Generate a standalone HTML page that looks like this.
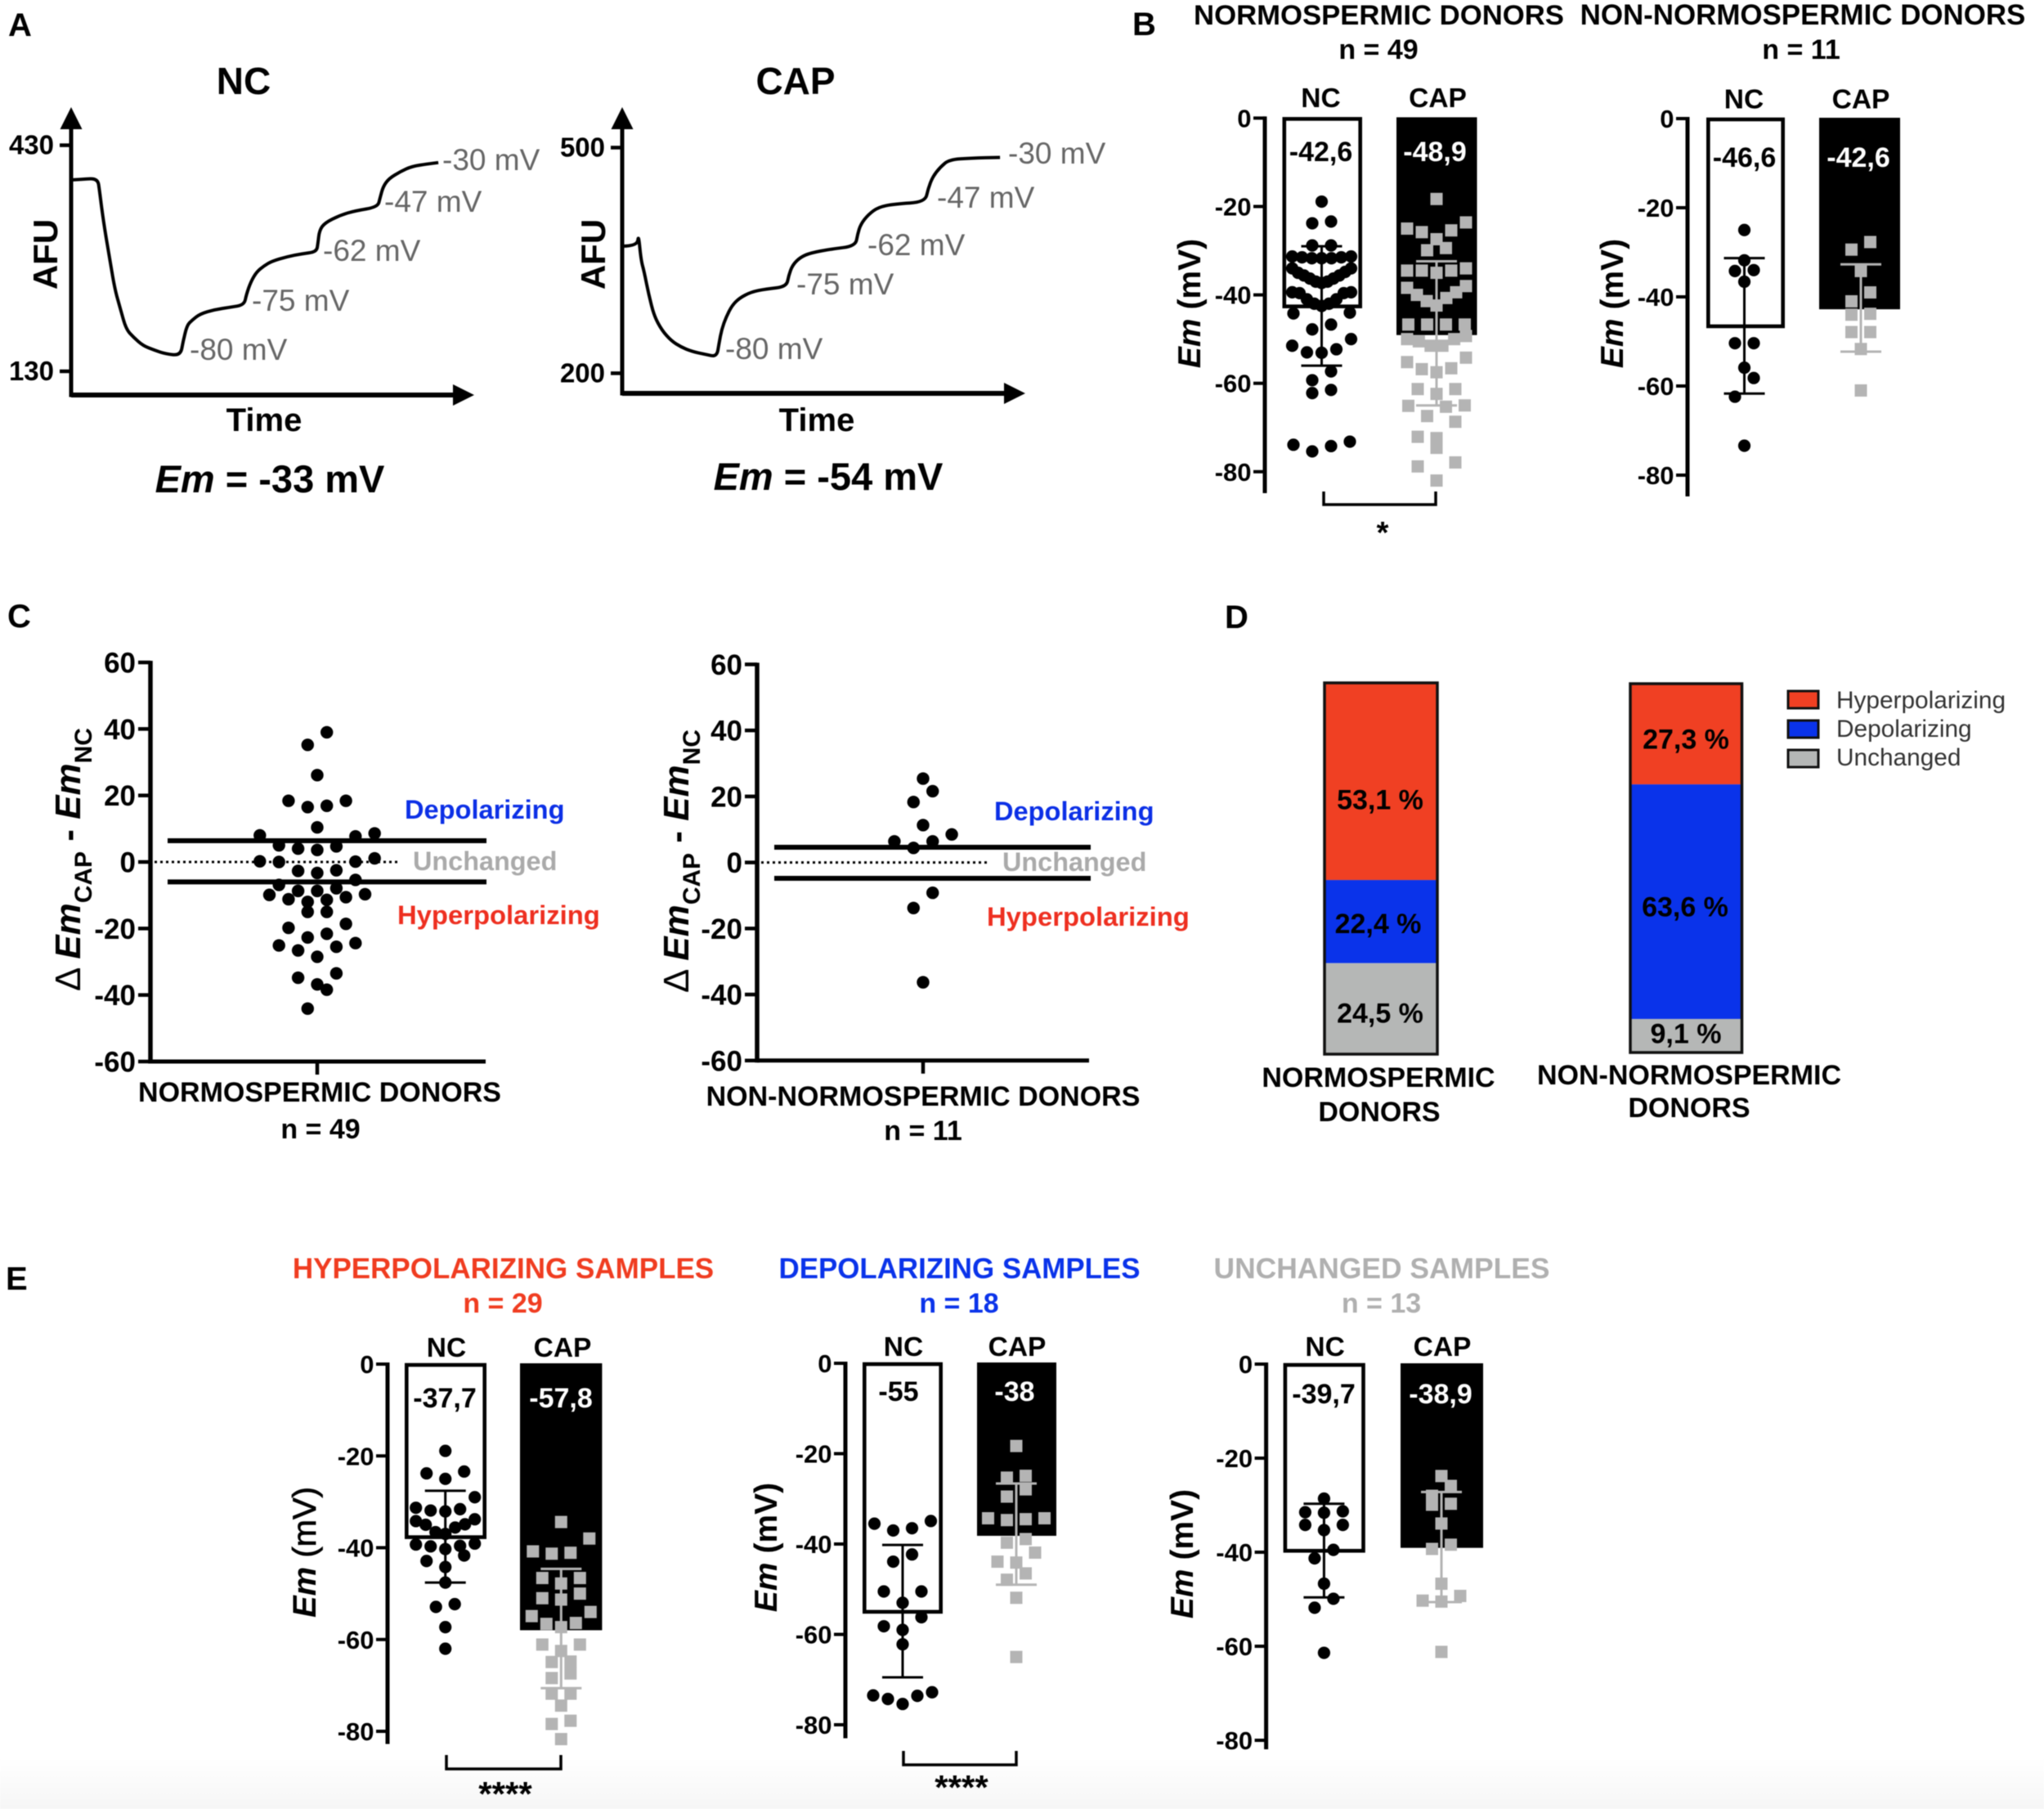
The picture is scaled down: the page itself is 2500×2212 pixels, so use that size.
<!DOCTYPE html>
<html lang="en">
<head>
<meta charset="utf-8">
<title>Membrane potential figure</title>
<style>
  html, body { margin: 0; padding: 0; background: #fff; }
  svg { display: block; font-family: "Liberation Sans", Arial, sans-serif; filter: blur(0.6px); }
  .b { font-weight: 700; fill: #000; }
  .r { font-weight: 400; }
  .g { fill: #666; font-size: 37px; }
  .m { text-anchor: middle; }
  .i { font-style: italic; }
</style>
</head>
<body>
<svg id="figure" xmlns="http://www.w3.org/2000/svg" width="2500" height="2212" viewBox="0 0 2500 2212">
  <defs>
    <linearGradient id="bottomFade" x1="0" y1="0" x2="0" y2="1">
      <stop offset="0" stop-color="#ffffff"/>
      <stop offset="1" stop-color="#f6f6f6"/>
    </linearGradient>
  </defs>
  <rect x="0" y="0" width="2500" height="2212" fill="#fff"/>
  <rect x="0" y="2150" width="2500" height="62" fill="url(#bottomFade)"/>

  <!-- Panel letters -->
  <text class="b" x="10" y="44" font-size="40">A</text>
  <text class="b" x="1385" y="43" font-size="40">B</text>
  <text class="b" x="9" y="767" font-size="40">C</text>
  <text class="b" x="1498" y="768" font-size="40">D</text>
  <text class="b" x="7" y="1577" font-size="40">E</text>

  <!-- Panel A text -->
  <g id="panelA">
    <text class="b m" x="298" y="115" font-size="46">NC</text>
    <text class="b m" x="973" y="115" font-size="46">CAP</text>
    <text class="b m" transform="translate(70,311) rotate(-90)" font-size="42">AFU</text>
    <text class="b m" transform="translate(740,311) rotate(-90)" font-size="42">AFU</text>
    <text class="b m" x="323" y="527" font-size="40">Time</text>
    <text class="b m" x="999" y="527" font-size="40">Time</text>
    <text class="b m" x="330" y="602" font-size="47"><tspan class="i">Em</tspan> = -33 mV</text>
    <text class="b m" x="1013" y="599" font-size="47"><tspan class="i">Em</tspan> = -54 mV</text>
    <text class="g" x="541" y="208">-30 mV</text>
    <text class="g" x="470" y="259">-47 mV</text>
    <text class="g" x="395" y="319">-62 mV</text>
    <text class="g" x="308" y="380">-75 mV</text>
    <text class="g" x="232" y="440">-80 mV</text>
    <text class="g" x="1233" y="200">-30 mV</text>
    <text class="g" x="1146" y="254">-47 mV</text>
    <text class="g" x="1061" y="312">-62 mV</text>
    <text class="g" x="974" y="360">-75 mV</text>
    <text class="g" x="887" y="439">-80 mV</text>
  </g>

  <!-- Panel B text -->
  <g id="panelB">
    <text class="b m" x="1686.5" y="30" font-size="34.7">NORMOSPERMIC DONORS</text>
    <text class="b m" x="2205" y="30" font-size="34.9">NON-NORMOSPERMIC DONORS</text>
    <text class="b m" x="1686" y="72" font-size="34">n = 49</text>
    <text class="b m" x="2203" y="72" font-size="34">n = 11</text>
    <text class="b m" transform="translate(1468,371) rotate(-90)" font-size="39"><tspan class="i">Em</tspan> (mV)</text>
    <text class="b m" transform="translate(1985,371) rotate(-90)" font-size="39"><tspan class="i">Em</tspan> (mV)</text>
    <path d="M1619 601 V617 H1756 V601" fill="none" stroke="#000" stroke-width="3.5"/>
    <text class="b m" x="1691" y="664" font-size="38">*</text>
  </g>

  <!-- Panel C text -->
  <g id="panelC">
    <text class="b m" transform="translate(98,1051) rotate(-90)" font-size="44"><tspan font-weight="400">Δ </tspan><tspan class="i">Em</tspan><tspan font-size="30" dy="14">CAP</tspan><tspan dy="-14"> - </tspan><tspan class="i">Em</tspan><tspan font-size="30" dy="14">NC</tspan></text>
    <text class="b m" transform="translate(842,1053) rotate(-90)" font-size="44"><tspan font-weight="400">Δ </tspan><tspan class="i">Em</tspan><tspan font-size="30" dy="14">CAP</tspan><tspan dy="-14"> - </tspan><tspan class="i">Em</tspan><tspan font-size="30" dy="14">NC</tspan></text>
    <text class="b m" x="391" y="1347" font-size="34">NORMOSPERMIC DONORS</text>
    <text class="b m" x="392" y="1392" font-size="34">n = 49</text>
    <text class="b m" x="1129" y="1352" font-size="34">NON-NORMOSPERMIC DONORS</text>
    <text class="b m" x="1129" y="1394" font-size="34">n = 11</text>
    <text font-weight="700" font-size="32.6" fill="#0b2fe6" x="495" y="1001">Depolarizing</text>
    <text font-weight="700" font-size="32.4" fill="#aaaaaa" x="505" y="1064">Unchanged</text>
    <text font-weight="700" font-size="32.8" fill="#ee2f20" x="486" y="1130">Hyperpolarizing</text>
    <text font-weight="700" font-size="32.6" fill="#0b2fe6" x="1216" y="1003">Depolarizing</text>
    <text font-weight="700" font-size="32.4" fill="#aaaaaa" x="1226" y="1065">Unchanged</text>
    <text font-weight="700" font-size="32.8" fill="#ee2f20" x="1207" y="1132">Hyperpolarizing</text>
  </g>

  <!-- Panel D text -->
  <g id="panelD">
    <text class="b m" x="1686" y="1329" font-size="34">NORMOSPERMIC</text>
    <text class="b m" x="1687" y="1371" font-size="34">DONORS</text>
    <text class="b m" x="2066" y="1326" font-size="34">NON-NORMOSPERMIC</text>
    <text class="b m" x="2066" y="1366" font-size="34">DONORS</text>
    <rect x="2187" y="845" width="37" height="21" fill="#f04023" stroke="#111" stroke-width="3"/>
    <rect x="2187" y="881" width="37" height="21" fill="#0a33ea" stroke="#111" stroke-width="3"/>
    <rect x="2187" y="917" width="37" height="21" fill="#b5b7b6" stroke="#111" stroke-width="3"/>
    <text x="2246" y="866" font-size="29.8" fill="#333">Hyperpolarizing</text>
    <text x="2246" y="901" font-size="29.8" fill="#333">Depolarizing</text>
    <text x="2246" y="936" font-size="29.8" fill="#333">Unchanged</text>
  </g>

  <!-- Panel E text -->
  <g id="panelE">
    <text font-weight="700" text-anchor="middle" fill="#f03c20" x="615.5" y="1563" font-size="35">HYPERPOLARIZING SAMPLES</text>
    <text font-weight="700" text-anchor="middle" fill="#f03c20" x="615" y="1605" font-size="34">n = 29</text>
    <text font-weight="700" text-anchor="middle" fill="#0a33ea" x="1173.5" y="1563" font-size="34.9">DEPOLARIZING SAMPLES</text>
    <text font-weight="700" text-anchor="middle" fill="#0a33ea" x="1173" y="1605" font-size="34">n = 18</text>
    <text font-weight="700" text-anchor="middle" fill="#b0b0b0" x="1690" y="1563" font-size="35.4">UNCHANGED SAMPLES</text>
    <text font-weight="700" text-anchor="middle" fill="#b0b0b0" x="1689.5" y="1605" font-size="34">n = 13</text>
    <text text-anchor="middle" transform="translate(386,1898) rotate(-90)" font-size="40"><tspan class="b i">Em</tspan><tspan stroke="#000" stroke-width="0.8"> (mV)</tspan></text>
    <text class="b m" transform="translate(950,1892) rotate(-90)" font-size="39"><tspan class="i">Em</tspan> (mV)</text>
    <text class="b m" transform="translate(1459,1900) rotate(-90)" font-size="39"><tspan class="i">Em</tspan> (mV)</text>
    <path d="M546 2146 V2163 H686 V2146" fill="none" stroke="#000" stroke-width="3.5"/>
    <text class="b m" x="618" y="2208" font-size="42">****</text>
    <path d="M1105 2141 V2158 H1243 V2141" fill="none" stroke="#000" stroke-width="3.5"/>
    <text class="b m" x="1176" y="2200" font-size="42">****</text>
  </g>

  <g id="marks"></g>
</svg>

<script>
/* ---------- Panel A: fluorescence traces ---------- */
const ncTraceTime = [0,3,7,7.5,8.5,10,11.5,13,14.5,16.5,19,22,25,28.9,29.6,30.6,32,34,38,42,45.7,46.3,47.5,49,51,53,57,61,64.8,65.2,65.6,67,71,75,81,81.6,82.4,84,87,90,94,97];
const ncTraceAfu = [384,385,386,370,330,285,240,213,186,175,164,158,153,151,170,191,198,206,212,215,218,232,249,262,270,276,282,286,288.5,300,317,327,337,343,348,360,375,386,395,402,405,407];
const capTraceTime = [0,4,4.3,5,5.8,7,8.4,10.5,13,15.5,18.4,22,25,25.6,26.3,27.5,29,31,34,38,43.4,44,45,47,49.7,55,61.6,62.2,63,65,67.7,72,80,80.8,82,84,86.4,92,99.8];
const capTraceAfu = [369,369,385,350,335,305,276.5,257,243,235,229,225,222,240,258.6,275,290,300,308,312,315,330,344,354,360,365,369,385,398,411,421,425,427.6,445,461,474,484,486,487];
const ncAfuTicks = [430,130];
const capAfuTicks = [500,200];

/* ---------- Shared bar-panel arrays ---------- */
const emTicks = [0,-20,-40,-60,-80];
const barCategories = ['NC','CAP'];

/* ---------- Panel B ---------- */
const b1Means = [-42.6,-48.9];
const b1ErrTop = [-29,-32.4];
const b1ErrBottom = [-56,-65];
const b1NcValues = [-18.9,-23.4,-23.8,-28.8,-28.8,-31.3,-31.5,-31.7,-31.7,-31.7,-31.5,-31.3,-34,-34,-34.8,-35,-35.6,-35.6,-36.3,-36.3,-37,-37,-37.3,-39.4,-39.4,-39.6,-39.6,-41,-41,-42,-42,-42.5,-44,-44.2,-46.7,-47.8,-50,-51.5,-52.3,-53,-53.1,-57.3,-59.3,-61.5,-62.2,-73.2,-73.9,-74.2,-75.4];
const b1NcBins = [-16,-21,-26,-30,-33,-38,-43,-49,-55,-60.5,-65,-70,-80];
const b1CapValues = [-18.3,-23.6,-25,-25.4,-25.8,-27.4,-29.4,-29.9,-34,-34.5,-34.5,-34.5,-35,-38,-38.4,-39.4,-40,-40.7,-41.4,-42.4,-46.7,-46.7,-46.7,-46.7,-49.3,-50,-50,-50.5,-51.5,-51.5,-54.2,-55.2,-56.6,-56.8,-57.5,-61.3,-61.3,-62.4,-65,-65.1,-65.3,-67.4,-68.7,-72.1,-72.4,-74.6,-77.9,-78.8,-82];
const b1CapBins = [-15,-22.5,-27.5,-32.5,-37.5,-42.5,-47.5,-52.5,-57.6,-62.5,-67.5,-72.5,-77.5,-82.5];

const b2Means = [-46.6,-42.6];
const b2ErrTop = [-31.3,-32.7];
const b2ErrBottom = [-61.7,-52.3];
const b2NcValues = [-25,-31.8,-34,-34.2,-36.6,-50.4,-50.4,-55.9,-58.2,-62.4,-73.4];
const b2NcBins = [-20,-30,-33,-35,-40,-45,-53,-57,-63,-80];
const b2CapValues = [-27.7,-29.4,-34.2,-39,-41,-43.8,-44,-47.9,-47.9,-51.7,-61];
const b2CapBins = [-25,-31,-36,-42,-46,-50,-55,-65];

/* ---------- Panel C ---------- */
const deltaTicks = [60,40,20,0,-20,-40,-60];
const c1Thresholds = [6.4,-6];
const c1Values = [39,35.2,26.1,18.4,18.4,16.9,16.5,10.4,8,8.6,7.7,5,4.7,4,3.6,1.1,0.2,0,0.1,-2.7,-2.5,-3.3,-5.4,-6.9,-7.9,-8.7,-8.7,-9.7,-9.9,-10.6,-11.2,-11.4,-12,-15,-15,-18.6,-19.8,-21.6,-22.7,-24.4,-25.1,-25.5,-26.6,-28.5,-33.5,-34.8,-36.8,-38.4,-44.1];
const c1Bins = [45,30,22,13,9,2,-4.5,-9,-13,-17,-23.5,-30,-37.5,-45];
const c2Thresholds = [4.6,-4.8];
const c2Values = [25.4,21.6,18.3,11.3,8.5,6.4,6.4,4.4,-9.2,-13.8,-36.3];
const c2Bins = [30,23,14,9,3,-5,-15,-30,-40];

/* ---------- Panel D ---------- */
const dHyperShare = [53.1,27.3];
const dDepolShare = [22.4,63.6];
const dUnchangedShare = [24.5,9.1];

/* ---------- Panel E ---------- */
const e1Means = [-37.7,-57.8];
const e1ErrTop = [-27.6,-44.6];
const e1ErrBottom = [-47.6,-70.6];
const e1NcValues = [-18.9,-23.4,-23.8,-25,-29,-31.3,-31.6,-31.9,-32.1,-33.8,-34.2,-34.9,-35,-35.6,-36.6,-37,-39.1,-39.3,-39.6,-39.7,-40.3,-41.7,-42.9,-44.2,-47.6,-52.3,-52.9,-57.3,-62];
const e1NcBins = [-16,-21,-27,-33,-38,-40.8,-46,-50,-55,-60,-65];
const e1CapValues = [-34.4,-38,-40.8,-41.1,-41.3,-46.6,-46.6,-47.8,-50,-51,-51.3,-54,-54.9,-56.4,-56.6,-57.3,-61.1,-61.1,-62.5,-64.8,-64.9,-67.4,-68.4,-71.8,-71.8,-74.4,-77.7,-78.4,-81.7];
const e1CapBins = [-30,-36,-43,-49,-52,-58,-63,-66,-70,-73,-76,-80,-83];

const e2Means = [-55,-38];
const e2ErrTop = [-40.2,-26.6];
const e2ErrBottom = [-69.5,-49];
const e2NcValues = [-34.9,-35.5,-36.5,-37,-42.3,-43.9,-50.5,-50.5,-53,-56.2,-58.2,-59,-62.2,-72.8,-73.5,-73.6,-74.3,-75.4];
const e2NcBins = [-30,-38,-41,-45,-50,-54,-56,-60,-61,-65,-72,-76];
const e2CapValues = [-18.3,-24.9,-25.3,-27.9,-29.5,-34.3,-34.3,-34.5,-34.7,-38.9,-39.7,-41.9,-43.9,-44.1,-46.5,-47.9,-51.9,-65];
const e2CapBins = [-15,-22,-27,-31,-33,-36,-38,-41,-45,-49,-50,-53,-60,-70];

const e3Means = [-39.7,-38.9];
const e3ErrTop = [-29.7,-27.2];
const e3ErrBottom = [-49.6,-50.6];
const e3NcValues = [-28.6,-31.3,-31.5,-31.6,-34.2,-34.2,-35.3,-39.5,-41.3,-46.7,-49.9,-51.8,-61.4];
const e3NcBins = [-25,-30,-33,-37,-38,-43,-45,-48,-53,-60,-65];
const e3CapValues = [-23.8,-25.9,-28,-29.7,-29.9,-33.9,-38.4,-39.3,-46.7,-49.3,-50.3,-50.5,-61.2];
const e3CapBins = [-20,-25,-29,-31,-33,-36,-37,-41,-45,-48,-52,-60,-65];

/* ---------- Helpers ---------- */
const SVG_NS = 'http://www.w3.org/2000/svg';
const marks = document.getElementById('marks');

function shape(tag, attrs) {
  const el = document.createElementNS(SVG_NS, tag);
  for (const key in attrs) {
    el.setAttribute(key, attrs[key]);
  }
  marks.appendChild(el);
  return el;
}

function linear(domain, range) {
  return function (v) {
    return range[0] + (v - domain[0]) * (range[1] - range[0]) / (domain[1] - domain[0]);
  };
}

function drawLine(x1, y1, x2, y2, width, color, name) {
  const el = shape('line', { x1: x1, y1: y1, x2: x2, y2: y2, stroke: color, 'stroke-width': width });
  
  
  return el;
}

function drawLabel(text, x, y, size, anchor, color, name) {
  const el = shape('text', { x: x, y: y, 'font-size': size, 'font-weight': 700, 'text-anchor': anchor, fill: color });
  el.textContent = text;
  
  
  return el;
}

function drawDot(x, y, r, name) {
  const el = shape('circle', { cx: x, cy: y, r: r, fill: '#000' });
  
  
  return el;
}

function drawSquare(x, y, size, name) {
  const el = shape('rect', { x: x - size / 2, y: y - size / 2, width: size, height: size, fill: '#b4b4b4' });
  
  
  return el;
}

/* Prism-style swarm: points inside a value bin spread symmetrically, the highest
   values outermost, so each offset is derived from the values themselves. */
function swarmOffsets(values, bins, step, halfWidth) {
  const offsets = values.map(function () { return 0; });
  for (let b = 0; b + 1 < bins.length; b++) {
    const members = [];
    values.forEach(function (v, i) {
      if (v <= bins[b] && v > bins[b + 1]) members.push(i);
    });
    members.sort(function (p, q) { return values[q] - values[p]; });
    const n = members.length;
    const spacing = n > 1 ? Math.min(step, 2 * halfWidth / (n - 1)) : 0;
    members.forEach(function (idx, order) {
      const level = Math.floor(order / 2);
      const distance = ((n - 1) / 2 - level) * spacing;
      offsets[idx] = (order % 2 === 0 ? 1 : -1) * distance;
    });
  }
  return offsets;
}

function formatValue(v) {
  return String(v).replace('.', ',');
}

/* ---------- Panel A drawing ---------- */
function drawTracePanel(cfg, times, afu, ticks) {
  const x = linear([0, 100], [cfg.axisX, cfg.axisX + 463]);
  const y = linear([ticks[0], ticks[1]], [cfg.tickTop, cfg.tickBottom]);
  drawLine(cfg.axisX, cfg.arrowBase, cfg.axisX, cfg.baseY + 2.5, 5, '#000', cfg.id + '-y-axis');
  drawLine(cfg.axisX, cfg.baseY, cfg.arrowTipX - 20, cfg.baseY, 6, '#000', cfg.id + '-x-axis');
  const yArrow = shape('polygon', { points: [cfg.axisX, 131, cfg.axisX - 13.5, 158, cfg.axisX + 13.5, 158].join(' '), fill: '#000' });
  
  
  const xArrow = shape('polygon', { points: [cfg.arrowTipX, cfg.baseY, cfg.arrowTipX - 26, cfg.baseY - 13, cfg.arrowTipX - 26, cfg.baseY + 13].join(' '), fill: '#000' });
  
  
  ticks.forEach(function (t) {
    drawLine(cfg.axisX - 14, y(t), cfg.axisX, y(t), 4.5, '#000', cfg.id + '-y-tick-' + t);
    drawLabel(String(t), cfg.axisX - 21, y(t) + 11, 33, 'end', '#000', cfg.id + '-y-tick-label-' + t);
  });
  /* Quadratic smoothing through segment midpoints keeps the exponential fall round. */
  const pts = times.map(function (t, i) { return [x(t), y(afu[i])]; });
  let d = 'M' + pts[0][0].toFixed(1) + ' ' + pts[0][1].toFixed(1);
  for (let i = 1; i < pts.length - 1; i++) {
    const mx = (pts[i][0] + pts[i + 1][0]) / 2;
    const my = (pts[i][1] + pts[i + 1][1]) / 2;
    d += ' Q' + pts[i][0].toFixed(1) + ' ' + pts[i][1].toFixed(1) + ' ' + mx.toFixed(1) + ' ' + my.toFixed(1);
  }
  d += ' L' + pts[pts.length - 1][0].toFixed(1) + ' ' + pts[pts.length - 1][1].toFixed(1);
  const trace = shape('path', { d: d, fill: 'none', stroke: '#000', 'stroke-width': 4, 'stroke-linejoin': 'round' });
  
  
}

drawTracePanel({ id: 'nc', axisX: 87, baseY: 483, arrowBase: 150, arrowTipX: 580, tickTop: 177.6, tickBottom: 454 }, ncTraceTime, ncTraceAfu, ncAfuTicks);
drawTracePanel({ id: 'cap', axisX: 761, baseY: 481, arrowBase: 150, arrowTipX: 1254, tickTop: 180.5, tickBottom: 456.4 }, capTraceTime, capTraceAfu, capAfuTicks);

/* ---------- Bar + scatter panels (B and E) ---------- */
function drawBarPanel(cfg, means, errTop, errBottom, ncValues, ncBins, capValues, capBins) {
  const y = linear([0, -80], [cfg.y0, cfg.y80]);
  drawLine(cfg.axisX, cfg.y0 - 2, cfg.axisX, cfg.axisEnd, 5, '#000', cfg.id + '-y-axis');
  emTicks.forEach(function (t) {
    drawLine(cfg.axisX - 14, y(t), cfg.axisX, y(t), 4, '#000', cfg.id + '-y-tick-' + t);
    drawLabel(String(t), cfg.axisX - 16.5, y(t) + 11, 31, 'end', '#000', cfg.id + '-y-tick-label-' + t);
  });
  barCategories.forEach(function (category, i) {
    const box = cfg.bars[i];
    const isNc = i === 0;
    const key = category.toLowerCase();
    drawLabel(category, box.header, cfg.headerBase, 33.5, 'middle', '#000', cfg.id + '-' + key + '-header');
    const barEl = shape('rect', isNc
      ? { x: box.x0 + 2.3, y: cfg.y0 + 1, width: box.x1 - box.x0 - 4.6, height: y(means[i]) - cfg.y0 - 1, fill: '#fff', stroke: '#000', 'stroke-width': 4.6 }
      : { x: box.x0, y: cfg.y0 - 1, width: box.x1 - box.x0, height: y(means[i]) - cfg.y0 + 2, fill: '#000' });
    
    

    const values = isNc ? ncValues : capValues;
    const bins = isNc ? ncBins : capBins;
    const offsets = swarmOffsets(values, bins, 23, 36);
    values.forEach(function (v, j) {
      if (isNc) {
        drawDot(box.cx + offsets[j], y(v), 7.6, cfg.id + '-nc-point');
      } else {
        drawSquare(box.cx + offsets[j], y(v), 15, cfg.id + '-cap-point');
      }
    });

    const color = isNc ? '#000' : '#b4b4b4';
    drawLine(box.cx, y(errTop[i]), box.cx, y(errBottom[i]), 3, color, cfg.id + '-' + key + '-error-stem');
    drawLine(box.cx - 25, y(errTop[i]), box.cx + 25, y(errTop[i]), 3, color, cfg.id + '-' + key + '-error-cap-top');
    drawLine(box.cx - 25, y(errBottom[i]), box.cx + 25, y(errBottom[i]), 3, color, cfg.id + '-' + key + '-error-cap-bottom');

    drawLabel(formatValue(means[i]), box.label, cfg.valueBase, 34, 'middle', isNc ? '#000' : '#fff', cfg.id + '-' + key + '-mean-label');
  });
}

drawBarPanel({ id: 'b1', axisX: 1547, y0: 144.4, y80: 576.8, axisEnd: 603, headerBase: 131, valueBase: 197,
  bars: [{ x0: 1568.5, x1: 1666, cx: 1616.5, label: 1615.5, header: 1615.5 }, { x0: 1708, x1: 1806.5, cx: 1757, label: 1755, header: 1758.5 }] },
  b1Means, b1ErrTop, b1ErrBottom, b1NcValues, b1NcBins, b1CapValues, b1CapBins);

drawBarPanel({ id: 'b2', axisX: 2064, y0: 145, y80: 581, axisEnd: 607, headerBase: 132.5, valueBase: 204,
  bars: [{ x0: 2087, x1: 2183, cx: 2133.5, label: 2133.5, header: 2133 }, { x0: 2225, x1: 2324, cx: 2276, label: 2273, header: 2276 }] },
  b2Means, b2ErrTop, b2ErrBottom, b2NcValues, b2NcBins, b2CapValues, b2CapBins);

drawBarPanel({ id: 'e1', axisX: 474, y0: 1668, y80: 2117, axisEnd: 2132.5, headerBase: 1659, valueBase: 1721,
  bars: [{ x0: 495, x1: 595, cx: 544.7, label: 544, header: 546 }, { x0: 636, x1: 736.4, cx: 686.3, label: 686, header: 688 }] },
  e1Means, e1ErrTop, e1ErrBottom, e1NcValues, e1NcBins, e1CapValues, e1CapBins);

drawBarPanel({ id: 'e2', axisX: 1034, y0: 1667, y80: 2109, axisEnd: 2125.5, headerBase: 1658, valueBase: 1713,
  bars: [{ x0: 1055, x1: 1153, cx: 1104, label: 1099, header: 1105 }, { x0: 1195, x1: 1292, cx: 1243, label: 1241, header: 1244 }] },
  e2Means, e2ErrTop, e2ErrBottom, e2NcValues, e2NcBins, e2CapValues, e2CapBins);

drawBarPanel({ id: 'e3', axisX: 1548.6, y0: 1668, y80: 2128, axisEnd: 2139, headerBase: 1658, valueBase: 1716,
  bars: [{ x0: 1569.6, x1: 1669.8, cx: 1619.4, label: 1619, header: 1620.6 }, { x0: 1713, x1: 1814, cx: 1763, label: 1762, header: 1764 }] },
  e3Means, e3ErrTop, e3ErrBottom, e3NcValues, e3NcBins, e3CapValues, e3CapBins);

/* ---------- Panel C ---------- */
function drawDeltaPanel(cfg, values, bins, thresholds) {
  const y = linear([60, -60], [cfg.yTop, cfg.yBottom]);
  drawLine(cfg.axisX, cfg.yTop - 2, cfg.axisX, cfg.yBottom + 2.5, 5.5, '#000', cfg.id + '-y-axis');
  drawLine(cfg.axisX, cfg.yBottom, cfg.axisRight, cfg.yBottom, 5, '#000', cfg.id + '-x-axis');
  drawLine(cfg.cx, cfg.yBottom, cfg.cx, cfg.yBottom + 16, 4.5, '#000', cfg.id + '-x-tick');
  deltaTicks.forEach(function (t) {
    drawLine(cfg.axisX - 15, y(t), cfg.axisX, y(t), 4.5, '#000', cfg.id + '-y-tick-' + t);
    drawLabel(String(t), cfg.axisX - 18, y(t) + 12.5, 35, 'end', '#000', cfg.id + '-y-tick-label-' + t);
  });
  const dotted = drawLine(cfg.zeroX0, y(0), cfg.zeroX1, y(0), 3, '#000', cfg.id + '-zero-line');
  dotted.setAttribute('stroke-dasharray', '3 4');
  const offsets = swarmOffsets(values, bins, 23.4, cfg.halfWidth);
  values.forEach(function (v, j) {
    drawDot(cfg.cx + offsets[j], y(v), 7.7, cfg.id + '-delta-point');
  });
  thresholds.forEach(function (t, k) {
    drawLine(cfg.lineX0, y(t), cfg.lineX1, y(t), 6, '#000', cfg.id + (k === 0 ? '-upper-threshold' : '-lower-threshold'));
  });
}

drawDeltaPanel({ id: 'c1', axisX: 184, yTop: 810, yBottom: 1298, axisRight: 594, cx: 388, zeroX0: 189, zeroX1: 490, lineX0: 205, lineX1: 595, halfWidth: 82 }, c1Values, c1Bins, c1Thresholds);
drawDeltaPanel({ id: 'c2', axisX: 926, yTop: 812.4, yBottom: 1296.8, axisRight: 1332, cx: 1129, zeroX0: 931, zeroX1: 1208, lineX0: 947, lineX1: 1334, halfWidth: 40 }, c2Values, c2Bins, c2Thresholds);

/* ---------- Panel D ---------- */
const dLayout = [
  { id: 'd1', x0: 1620, x1: 1758, top: 835, bottom: 1289, labelX: [1688, 1685.5, 1688], labelShift: [22, 2, 5] },
  { id: 'd2', x0: 1994, x1: 2130.5, top: 836, bottom: 1287, labelX: [2062, 2061, 2062], labelShift: [6, 6, -3] }
];
dLayout.forEach(function (box, i) {
  const y = linear([0, 100], [box.top, box.bottom]);
  const parts = [
    { key: 'hyperpolarizing', share: dHyperShare[i], color: '#f04023' },
    { key: 'depolarizing', share: dDepolShare[i], color: '#0a33ea' },
    { key: 'unchanged', share: dUnchangedShare[i], color: '#b5b7b6' }
  ];
  let cumulative = 0;
  parts.forEach(function (part, p) {
    const yStart = y(cumulative);
    const yEnd = y(cumulative + part.share);
    const seg = shape('rect', { x: box.x0, y: yStart, width: box.x1 - box.x0, height: yEnd - yStart, fill: part.color });
    
    
    part.mid = (yStart + yEnd) / 2 + 12 + box.labelShift[p];
    cumulative += part.share;
  });
  const frame = shape('rect', { x: box.x0, y: box.top, width: box.x1 - box.x0, height: box.bottom - box.top, fill: 'none', stroke: '#111', 'stroke-width': 3.5 });
  
  
  parts.forEach(function (part, p) {
    drawLabel(formatValue(part.share) + ' %', box.labelX[p], part.mid, 34, 'middle', '#000', box.id + '-' + part.key + '-percent');
  });
});
</script>
</body>
</html>
